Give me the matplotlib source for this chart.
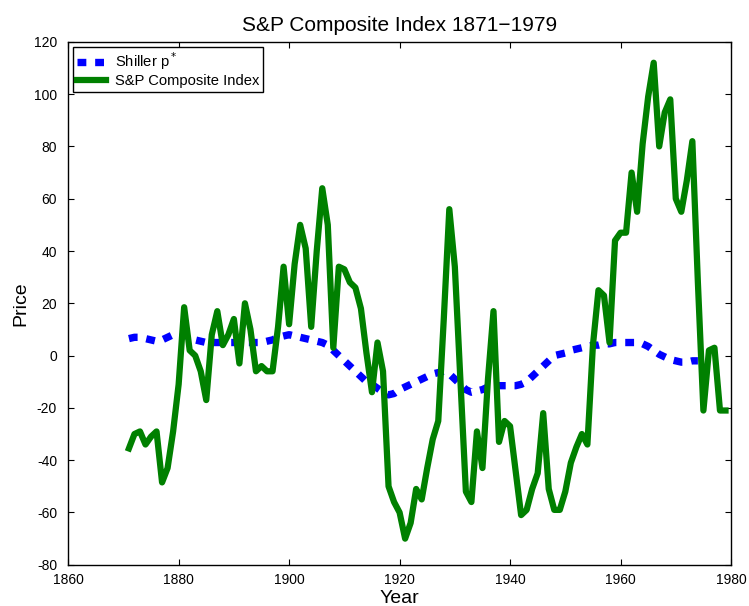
import matplotlib
matplotlib.use("Agg")
import matplotlib.pyplot as plt

plt.rcParams['font.family'] = ['Liberation Sans', 'DejaVu Sans']
plt.rcParams['axes.unicode_minus'] = False

# detrended S&P composite index, 1871-1979
sp_years = list(range(1871, 1980))
sp_price = [
    -35.5, -30, -29, -34, -31, -29, -48.5, -43, -29, -11,
    18.5, 2, 0, -6, -17, 8, 17, 4, 8, 14,
    -3, 20, 10, -6, -4, -6, -6, 11, 34, 12,
    35, 50, 41, 11, 40, 64, 50, 3, 34, 33,
    28, 26, 18, 1, -14, 5, -6, -50, -56, -60,
    -70, -64, -51, -55, -43, -32, -25, 14, 56, 34,
    -9, -52, -56, -29, -43, -9, 17, -33, -25, -27,
    -44, -61, -59, -51, -45, -22, -51, -59, -59, -52,
    -41, -35, -30, -34, 4, 25, 23, 5, 44, 47,
    47, 70, 55, 81, 99, 112, 80, 93, 98, 60,
    55, 67, 82, 28, -21, 2, 3, -21, -21,
]

# Shiller ex-post rational price p*
ps_years = list(range(1871, 1975))
ps_price = [
    6.5, 7, 7, 6.5, 6, 5.5, 6, 7, 8, 8.5,
    8, 7, 6, 5.5, 5, 5, 5, 5, 5, 5,
    5, 5, 5, 5, 5, 5.5, 6, 7, 7.5, 8,
    7.5, 7, 6.5, 6, 5.5, 5, 4, 2, 0, -2,
    -4, -6, -8, -10, -11, -12.5, -14, -15, -14.5, -13,
    -12, -11, -10, -9, -8, -7, -6.5, -6, -7, -9,
    -11, -13, -14, -13.5, -13, -12, -11.5, -11.5, -11.5, -11.5,
    -11.5, -11, -10, -8, -6, -4, -2, 0, 0.5, 1,
    2, 2.5, 3, 3.5, 4, 4, 4.5, 4.5, 5, 5,
    5, 5, 5, 4.5, 3.5, 2, 0.5, -0.5, -1.5, -2,
    -2.5, -2.5, -2, -2,
]

fig = plt.figure(figsize=(7.49, 6.06), dpi=100)
ax = fig.add_axes([0.091, 0.068, 0.885, 0.863])

ax.plot(ps_years, ps_price, color='#0000ff', lw=5.3, linestyle=(0, (1.2, 1.2)),
        dash_capstyle='butt', label='Shiller p$^*$')
ax.plot(sp_years, sp_price, color='#008000', lw=4.5, solid_joinstyle='round',
        label='S&P Composite Index')

ax.set_xlim(1860, 1980)
ax.set_ylim(-80, 120)
ax.set_xticks(range(1860, 1981, 20))
ax.set_yticks(range(-80, 121, 20))
ax.tick_params(direction='in', top=True, right=True, labelsize=10, length=4)
ax.tick_params(axis='x', pad=6)
ax.tick_params(axis='y', pad=8)
for s in ax.spines.values():
    s.set_linewidth(1.0)

ax.set_title('S&P Composite Index 1871\u22121979', fontsize=15, pad=8)
ax.set_xlabel('Year', fontsize=14, labelpad=2)
ax.set_ylabel('Price', fontsize=14, labelpad=3)

leg = ax.legend(loc='upper left', fontsize=10.6, fancybox=False, framealpha=1,
                edgecolor='black', handlelength=2.0, borderaxespad=0.35,
                borderpad=0.25, labelspacing=0.1, handletextpad=0.6)
leg.get_frame().set_linewidth(1.0)

fig.savefig('out.png', dpi=100)
